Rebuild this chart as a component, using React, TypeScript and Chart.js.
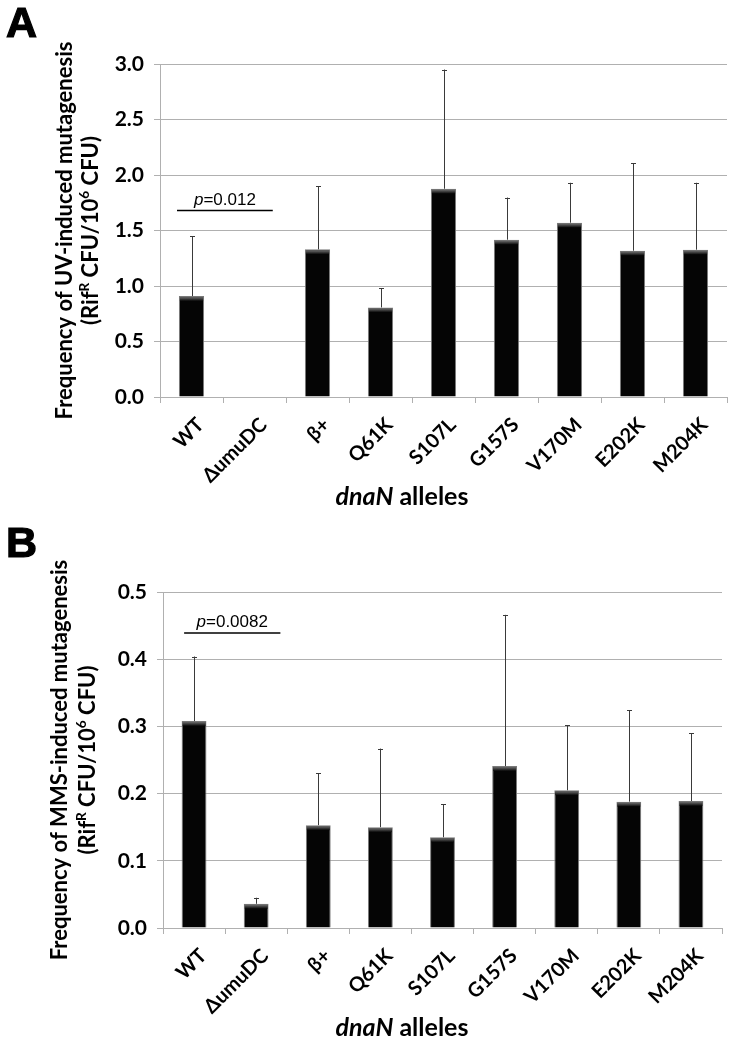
import { useEffect, useRef } from "react";
import { Chart, registerables } from "chart.js";
Chart.register(...registerables);

const alleles = ["WT", "ΔumuDC", "β+", "Q61K", "S107L", "G157S", "V170M", "E202K", "M204K"];

// Panel A: UV-induced mutagenesis
const uvMeans = [0.909, 0.004, 1.33, 0.807, 1.876, 1.417, 1.57, 1.318, 1.327];
const uvErrors = [0.537, 0.0, 0.57, 0.173, 1.074, 0.38, 0.36, 0.788, 0.603];
const uvTicksMax = 3.0;
const uvTickStep = 0.5;
const uvPText = "=0.012";
const uvPLevel = 1.68;
const uvPSpan = [-0.23, 1.29];

// Panel B: MMS-induced mutagenesis
const mmsMeans = [0.308, 0.036, 0.153, 0.15, 0.135, 0.241, 0.205, 0.188, 0.189];
const mmsErrors = [0.096, 0.009, 0.077, 0.117, 0.049, 0.225, 0.097, 0.136, 0.101];
const mmsTicksMax = 0.5;
const mmsTickStep = 0.1;
const mmsPText = "=0.0082";
const mmsPLevel = 0.439;
const mmsPSpan = [-0.16, 1.39];

type Run = { text: string; sup?: boolean; italic?: boolean };

const SANS = "Lato, 'Open Sans', sans-serif";
const ARIAL = "'Liberation Sans', Arial, sans-serif";

function drawRuns(
  ctx: CanvasRenderingContext2D,
  runs: Run[],
  x: number,
  y: number,
  size: number,
  family: string,
  weight: string
) {
  let total = 0;
  const parts = runs.map((r) => {
    const fs = r.sup ? size * 0.62 : size;
    const font = `${r.italic ? "italic " : ""}${weight} ${fs}px ${family}`;
    ctx.font = font;
    const w = ctx.measureText(r.text).width;
    total += w;
    return { r, font, w };
  });
  let cx = x - total / 2;
  ctx.textAlign = "left";
  ctx.textBaseline = "alphabetic";
  for (const p of parts) {
    ctx.font = p.font;
    ctx.fillText(p.r.text, cx, y + (p.r.sup ? -size * 0.4 : 0));
    cx += p.w;
  }
}

type PanelSpec = {
  letter: string;
  means: number[];
  errors: number[];
  yMax: number;
  step: number;
  pText: string;
  pLevel: number;
  pSpan: number[];
  title1: string;
  canvasH: number;
  box: { left: number; top: number; right: number; bottom: number };
  titleX: [number, number];
  xTitleY: number;
};

function makeChart(canvas: HTMLCanvasElement, s: PanelSpec) {
  const W = 733;
  const overlay = {
    id: "overlay",
    afterDatasetsDraw(chart: any) {
      const ctx: CanvasRenderingContext2D = chart.ctx;
      const xs = chart.scales.x;
      const ys = chart.scales.y;
      const meta = chart.getDatasetMeta(0);
      ctx.save();
      // subtle top highlight on bars
      meta.data.forEach((bar: any) => {
        const h = bar.base - bar.y;
        if (h < 6) return;
        const left = bar.x - bar.width / 2 + 1;
        const g = ctx.createLinearGradient(0, bar.y + 1, 0, bar.y + 5);
        g.addColorStop(0, "#6e6e6e");
        g.addColorStop(1, "#050505");
        ctx.fillStyle = g;
        ctx.fillRect(left, bar.y + 1, bar.width - 2, 4);
      });
      // error bars
      ctx.strokeStyle = "#3a3a3a";
      ctx.lineWidth = 1;
      s.means.forEach((m, i) => {
        const e = s.errors[i];
        if (!e) return;
        const bx = meta.data[i].x;
        const y0 = ys.getPixelForValue(m);
        const y1 = ys.getPixelForValue(m + e);
        ctx.beginPath();
        ctx.moveTo(Math.round(bx) + 0.5, y0);
        ctx.lineTo(Math.round(bx) + 0.5, y1);
        ctx.moveTo(Math.round(bx) - 2, Math.round(y1) + 0.5);
        ctx.lineTo(Math.round(bx) + 3, Math.round(y1) + 0.5);
        ctx.stroke();
      });
      // p-value annotation
      const px0 = xs.getPixelForValue(s.pSpan[0]);
      const px1 = xs.getPixelForValue(s.pSpan[1]);
      const py = ys.getPixelForValue(s.pLevel);
      ctx.strokeStyle = "#000";
      ctx.lineWidth = 1.6;
      ctx.beginPath();
      ctx.moveTo(px0, py);
      ctx.lineTo(px1, py);
      ctx.stroke();
      ctx.fillStyle = "#000";
      drawRuns(
        ctx,
        [{ text: "p", italic: true }, { text: s.pText }],
        (px0 + px1) / 2,
        py - 6,
        17,
        ARIAL,
        "normal"
      );
      ctx.restore();
    },
    afterDraw(chart: any) {
      const ctx: CanvasRenderingContext2D = chart.ctx;
      const ca = chart.chartArea;
      ctx.save();
      ctx.fillStyle = "#000";
      // panel letter
      ctx.font = `900 43px ${ARIAL}`;
      ctx.textAlign = "left";
      ctx.textBaseline = "alphabetic";
      ctx.fillText(s.letter, 6, 37);
      ctx.lineWidth = 1.2;
      ctx.strokeStyle = "#000";
      ctx.strokeText(s.letter, 6, 37);
      // y title (rotated)
      const cy = (ca.top + ca.bottom) / 2;
      const size = 22;
      ctx.save();
      ctx.translate(s.titleX[0], cy);
      ctx.rotate(-Math.PI / 2);
      drawRuns(ctx, [{ text: s.title1 }], 0, size * 0.35, size, SANS, "bold");
      ctx.restore();
      ctx.save();
      ctx.translate(s.titleX[1], cy);
      ctx.rotate(-Math.PI / 2);
      drawRuns(
        ctx,
        [
          { text: "(Rif" },
          { text: "R", sup: true },
          { text: " CFU/10" },
          { text: "6", sup: true },
          { text: " CFU)" },
        ],
        0,
        size * 0.35,
        size,
        SANS,
        "bold"
      );
      ctx.restore();
      // x title
      drawRuns(
        ctx,
        [{ text: "dnaN", italic: true }, { text: " alleles" }],
        402,
        s.xTitleY,
        25,
        SANS,
        "bold"
      );
      ctx.restore();
    },
  };

  const grid = "#b0b0b0";
  return new Chart(canvas, {
    type: "bar",
    data: {
      labels: alleles,
      datasets: [
        {
          data: s.means,
          backgroundColor: "#050505",
          borderColor: "#7a7a7a",
          borderWidth: 1,
          barPercentage: 0.4,
          categoryPercentage: 1.0,
        },
      ],
    },
    options: {
      responsive: false,
      animation: false,
      devicePixelRatio: 1,
      layout: {
        padding: { left: 0, top: s.box.top, right: W - s.box.right, bottom: 0 },
      },
      plugins: { legend: { display: false }, tooltip: { enabled: false } },
      scales: {
        x: {
          grid: {
            drawOnChartArea: false,
            drawTicks: true,
            tickLength: 6,
            color: grid,
            offset: true,
          },
          border: { display: true, color: grid },
          ticks: {
            autoSkip: false,
            maxRotation: 45,
            minRotation: 45,
            padding: 10,
            labelOffset: 9,
            color: "#000",
            font: { family: SANS, weight: "bold", size: 20 },
          },
          afterFit: (scale: any) => {
            scale.height = s.canvasH - s.box.bottom;
          },
        },
        y: {
          min: 0,
          max: s.yMax,
          grid: { color: grid, tickLength: 6, drawTicks: true },
          border: { display: true, color: grid },
          ticks: {
            stepSize: s.step,
            padding: 10,
            color: "#000",
            font: { family: SANS, weight: "bold", size: 21 },
            callback: (v: any) => Number(v).toFixed(1),
          },
          afterFit: (scale: any) => {
            scale.width = s.box.left;
          },
        },
      },
    },
    plugins: [overlay],
  } as any);
}

function Panel({ spec, top }: { spec: PanelSpec; top: number }) {
  const ref = useRef<HTMLCanvasElement>(null);
  useEffect(() => {
    if (!ref.current) return;
    const c = makeChart(ref.current, spec);
    return () => c.destroy();
  }, []);
  return (
    <canvas
      ref={ref}
      width={733}
      height={spec.canvasH}
      style={{ position: "absolute", left: 0, top, display: "block" }}
    />
  );
}

const specA: PanelSpec = {
  letter: "A",
  means: uvMeans,
  errors: uvErrors,
  yMax: uvTicksMax,
  step: uvTickStep,
  pText: uvPText,
  pLevel: uvPLevel,
  pSpan: uvPSpan,
  title1: "Frequency of UV-induced mutagenesis",
  canvasH: 520,
  box: { left: 160, top: 64, right: 727, bottom: 397 },
  titleX: [64, 90],
  xTitleY: 505,
};

const specB: PanelSpec = {
  letter: "B",
  means: mmsMeans,
  errors: mmsErrors,
  yMax: mmsTicksMax,
  step: mmsTickStep,
  pText: mmsPText,
  pLevel: mmsPLevel,
  pSpan: mmsPSpan,
  title1: "Frequency of MMS-induced mutagenesis",
  canvasH: 522,
  box: { left: 163, top: 72, right: 722, bottom: 408 },
  titleX: [59, 87],
  xTitleY: 516,
};

export default function App() {
  return (
    <div
      style={{
        position: "absolute",
        left: 0,
        top: 0,
        width: 733,
        height: 1042,
        background: "#fff",
        overflow: "hidden",
      }}
    >
      <Panel spec={specA} top={0} />
      <Panel spec={specB} top={520} />
    </div>
  );
}
